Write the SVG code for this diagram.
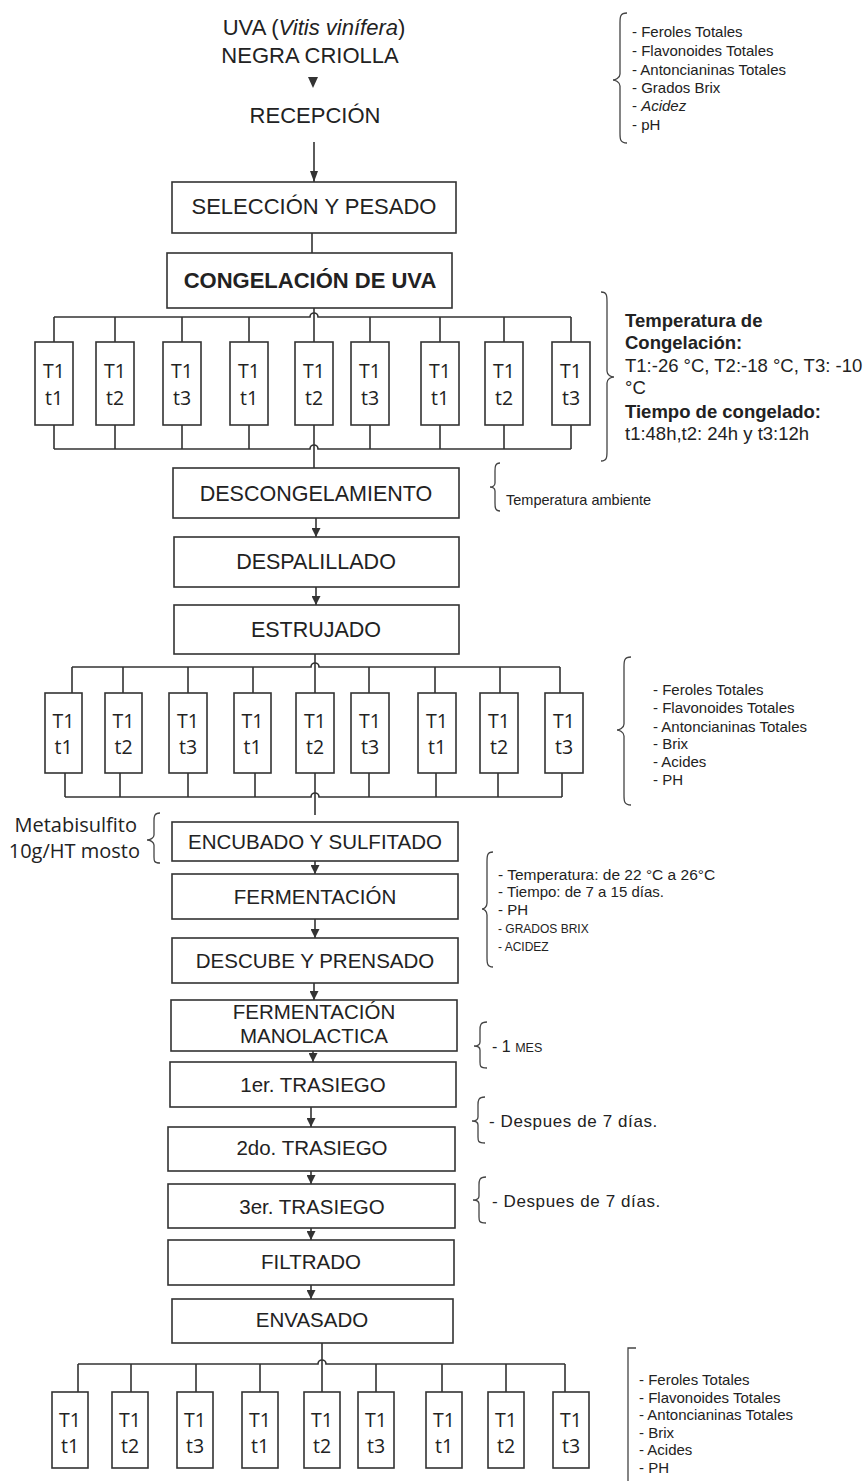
<svg xmlns="http://www.w3.org/2000/svg" width="868" height="1481" viewBox="0 0 868 1481">
<style>
.bx{fill:#fff;stroke:#333;stroke-width:1.6}
.ln{fill:none;stroke:#333;stroke-width:1.6}
.br{fill:none;stroke:#444;stroke-width:1.3}
.a{font-family:"Liberation Sans",Arial,sans-serif;fill:#222}
.m{font-size:21.5px;text-anchor:middle}
.tt{font-family:"Open Sans","Liberation Sans",sans-serif;font-size:19.5px;text-anchor:middle;fill:#222}
.s{font-size:15px}
.b18{font-size:18.5px}
</style>
<defs>
<marker id="ah" markerWidth="9" markerHeight="9" refX="9" refY="4.5" orient="auto" markerUnits="userSpaceOnUse"><path d="M0,0 L9,4.5 L0,9 z" fill="#333"/></marker>
<marker id="ah2" markerWidth="11" markerHeight="8" refX="11" refY="4" orient="auto" markerUnits="userSpaceOnUse"><path d="M0,0 L11,4 L0,8 z" fill="#333"/></marker>
</defs>
<rect width="868" height="1481" fill="#fff"/>

<g id="connectors">
<polygon points="308,77 318,77 313,88" fill="#333"/>
<line class="ln" x1="314" y1="142" x2="314" y2="182" marker-end="url(#ah2)"/>
<line class="ln" x1="312" y1="233" x2="312" y2="253"/>
<!-- grid 1 -->
<path class="ln" d="M54,317 H310 A4,4 0 0 1 318,317 H571"/>
<line class="ln" x1="314" y1="308" x2="314" y2="342"/>
<path class="ln" d="M54,317V342 M115,317V342 M182,317V342 M249,317V342 M370,317V342 M440,317V342 M504,317V342 M571,317V342"/>
<path class="ln" d="M54,425V449 M115,425V449 M182,425V449 M249,425V449 M370,425V449 M440,425V449 M504,425V449 M571,425V449"/>
<path class="ln" d="M54,449 H310 A4,4 0 0 1 318,449 H571"/>
<line class="ln" x1="314" y1="425" x2="314" y2="468"/>
<line class="ln" x1="316" y1="518" x2="316" y2="537" marker-end="url(#ah)"/>
<line class="ln" x1="316" y1="587" x2="316" y2="605" marker-end="url(#ah)"/>
<!-- grid 2 -->
<path class="ln" d="M72,667 H311 A4,4 0 0 1 319,667 H560"/>
<line class="ln" x1="315" y1="654" x2="315" y2="693"/>
<path class="ln" d="M72,667V693 M123,667V693 M188,667V693 M253,667V693 M369,667V693 M435,667V693 M500,667V693 M560,667V693"/>
<path class="ln" d="M65,773V797 M120,773V797 M188,773V797 M255,773V797 M369,773V797 M436,773V797 M498,773V797 M562,773V797"/>
<path class="ln" d="M65,797 H311 A4,4 0 0 1 319,797 H562"/>
<line class="ln" x1="315" y1="773" x2="315" y2="815"/>
<line class="ln" x1="315" y1="861" x2="315" y2="874" marker-end="url(#ah)"/>
<line class="ln" x1="315" y1="919" x2="315" y2="938" marker-end="url(#ah)"/>
<line class="ln" x1="314" y1="983" x2="314" y2="1000" marker-end="url(#ah)"/>
<line class="ln" x1="313" y1="1051" x2="313" y2="1062" marker-end="url(#ah)"/>
<line class="ln" x1="311" y1="1107" x2="311" y2="1127" marker-end="url(#ah)"/>
<line class="ln" x1="311" y1="1171" x2="311" y2="1184" marker-end="url(#ah)"/>
<line class="ln" x1="311" y1="1228" x2="311" y2="1240" marker-end="url(#ah)"/>
<line class="ln" x1="311" y1="1285" x2="311" y2="1299" marker-end="url(#ah)"/>
<!-- grid 3 -->
<line class="ln" x1="322" y1="1343" x2="322" y2="1392"/>
<path class="ln" d="M78,1364 H318 A4,4 0 0 1 326,1364 H565"/>
<path class="ln" d="M78,1364V1392 M131,1364V1392 M196,1364V1392 M260,1364V1392 M376,1364V1392 M442,1364V1392 M506,1364V1392 M565,1364V1392"/>
</g>

<g id="n-uva">
<text class="a" x="314" y="35" text-anchor="middle" font-size="22">UVA (<tspan font-style="italic">Vitis vinífera</tspan>)</text>
<text class="a" x="310" y="63" text-anchor="middle" font-size="22">NEGRA CRIOLLA</text>
</g>
<g id="n-recepcion"><text class="a" x="315" y="123" text-anchor="middle" font-size="22">RECEPCIÓN</text></g>
<g id="n-seleccion"><rect class="bx" x="172" y="182" width="284" height="51"/><text class="a" x="314" y="214" text-anchor="middle" font-size="22">SELECCIÓN Y PESADO</text></g>
<g id="n-congelacion"><rect class="bx" x="167" y="253" width="285" height="55"/><text class="a" x="310" y="288" text-anchor="middle" font-size="22" font-weight="bold">CONGELACIÓN DE UVA</text></g>

<g id="grid1">
<g id="g1b1"><rect class="bx" x="35" y="342" width="38" height="83"/><text class="tt" x="54" y="378">T1</text><text class="tt" x="54" y="405">t1</text></g>
<g id="g1b2"><rect class="bx" x="96" y="342" width="38" height="83"/><text class="tt" x="115" y="378">T1</text><text class="tt" x="115" y="405">t2</text></g>
<g id="g1b3"><rect class="bx" x="163" y="342" width="38" height="83"/><text class="tt" x="182" y="378">T1</text><text class="tt" x="182" y="405">t3</text></g>
<g id="g1b4"><rect class="bx" x="230" y="342" width="38" height="83"/><text class="tt" x="249" y="378">T1</text><text class="tt" x="249" y="405">t1</text></g>
<g id="g1b5"><rect class="bx" x="295" y="342" width="38" height="83"/><text class="tt" x="314" y="378">T1</text><text class="tt" x="314" y="405">t2</text></g>
<g id="g1b6"><rect class="bx" x="351" y="342" width="38" height="83"/><text class="tt" x="370" y="378">T1</text><text class="tt" x="370" y="405">t3</text></g>
<g id="g1b7"><rect class="bx" x="421" y="342" width="38" height="83"/><text class="tt" x="440" y="378">T1</text><text class="tt" x="440" y="405">t1</text></g>
<g id="g1b8"><rect class="bx" x="485" y="342" width="38" height="83"/><text class="tt" x="504" y="378">T1</text><text class="tt" x="504" y="405">t2</text></g>
<g id="g1b9"><rect class="bx" x="552" y="342" width="38" height="83"/><text class="tt" x="571" y="378">T1</text><text class="tt" x="571" y="405">t3</text></g>
</g>

<g id="n-descong"><rect class="bx" x="173" y="468" width="286" height="50"/><text class="a m" x="316" y="501">DESCONGELAMIENTO</text></g>
<g id="n-despal"><rect class="bx" x="174" y="537" width="285" height="50"/><text class="a m" x="316" y="569">DESPALILLADO</text></g>
<g id="n-estruj"><rect class="bx" x="174" y="605" width="285" height="49"/><text class="a m" x="316" y="637">ESTRUJADO</text></g>

<g id="grid2">
<g id="g2b1"><rect class="bx" x="45" y="693" width="37" height="80"/><text class="tt" x="63.5" y="728">T1</text><text class="tt" x="63.5" y="754">t1</text></g>
<g id="g2b2"><rect class="bx" x="105" y="693" width="37" height="80"/><text class="tt" x="123.5" y="728">T1</text><text class="tt" x="123.5" y="754">t2</text></g>
<g id="g2b3"><rect class="bx" x="169" y="693" width="38" height="80"/><text class="tt" x="188" y="728">T1</text><text class="tt" x="188" y="754">t3</text></g>
<g id="g2b4"><rect class="bx" x="234" y="693" width="37" height="80"/><text class="tt" x="252.5" y="728">T1</text><text class="tt" x="252.5" y="754">t1</text></g>
<g id="g2b5"><rect class="bx" x="296" y="693" width="38" height="80"/><text class="tt" x="315" y="728">T1</text><text class="tt" x="315" y="754">t2</text></g>
<g id="g2b6"><rect class="bx" x="351" y="693" width="38" height="80"/><text class="tt" x="370" y="728">T1</text><text class="tt" x="370" y="754">t3</text></g>
<g id="g2b7"><rect class="bx" x="418" y="693" width="38" height="80"/><text class="tt" x="437" y="728">T1</text><text class="tt" x="437" y="754">t1</text></g>
<g id="g2b8"><rect class="bx" x="480" y="693" width="38" height="80"/><text class="tt" x="499" y="728">T1</text><text class="tt" x="499" y="754">t2</text></g>
<g id="g2b9"><rect class="bx" x="545" y="693" width="38" height="80"/><text class="tt" x="564" y="728">T1</text><text class="tt" x="564" y="754">t3</text></g>
</g>

<g id="n-encubado"><rect class="bx" x="172" y="822" width="286" height="39"/><text class="a" x="315" y="849" text-anchor="middle" font-size="20.5">ENCUBADO Y SULFITADO</text></g>
<g id="n-ferment"><rect class="bx" x="172" y="874" width="286" height="45"/><text class="a" x="315" y="904" text-anchor="middle" font-size="20.5">FERMENTACIÓN</text></g>
<g id="n-descube"><rect class="bx" x="172" y="938" width="286" height="45"/><text class="a" x="315" y="968" text-anchor="middle" font-size="20.5">DESCUBE Y PRENSADO</text></g>
<g id="n-fm"><rect class="bx" x="171" y="1000" width="286" height="51"/><text class="a" x="314" y="1019" text-anchor="middle" font-size="20.5">FERMENTACIÓN</text><text class="a" x="314" y="1043" text-anchor="middle" font-size="20.5">MANOLACTICA</text></g>
<g id="n-tras1"><rect class="bx" x="170" y="1062" width="286" height="45"/><text class="a" x="313" y="1092" text-anchor="middle" font-size="20.5">1er. TRASIEGO</text></g>
<g id="n-tras2"><rect class="bx" x="168" y="1127" width="287" height="44"/><text class="a" x="312" y="1155" text-anchor="middle" font-size="20.5">2do. TRASIEGO</text></g>
<g id="n-tras3"><rect class="bx" x="168" y="1184" width="287" height="44"/><text class="a" x="312" y="1214" text-anchor="middle" font-size="20.5">3er. TRASIEGO</text></g>
<g id="n-filtrado"><rect class="bx" x="168" y="1240" width="286" height="45"/><text class="a" x="311" y="1269" text-anchor="middle" font-size="20.5">FILTRADO</text></g>
<g id="n-envasado"><rect class="bx" x="172" y="1299" width="281" height="44"/><text class="a" x="312" y="1327" text-anchor="middle" font-size="20.5">ENVASADO</text></g>

<g id="grid3">
<g id="g3b1"><rect class="bx" x="52" y="1392" width="36" height="76"/><text class="tt" x="70" y="1427">T1</text><text class="tt" x="70" y="1453">t1</text></g>
<g id="g3b2"><rect class="bx" x="112" y="1392" width="36" height="76"/><text class="tt" x="130" y="1427">T1</text><text class="tt" x="130" y="1453">t2</text></g>
<g id="g3b3"><rect class="bx" x="177" y="1392" width="36" height="76"/><text class="tt" x="195" y="1427">T1</text><text class="tt" x="195" y="1453">t3</text></g>
<g id="g3b4"><rect class="bx" x="242" y="1392" width="36" height="76"/><text class="tt" x="260" y="1427">T1</text><text class="tt" x="260" y="1453">t1</text></g>
<g id="g3b5"><rect class="bx" x="304" y="1392" width="36" height="76"/><text class="tt" x="322" y="1427">T1</text><text class="tt" x="322" y="1453">t2</text></g>
<g id="g3b6"><rect class="bx" x="358" y="1392" width="36" height="76"/><text class="tt" x="376" y="1427">T1</text><text class="tt" x="376" y="1453">t3</text></g>
<g id="g3b7"><rect class="bx" x="426" y="1392" width="36" height="76"/><text class="tt" x="444" y="1427">T1</text><text class="tt" x="444" y="1453">t1</text></g>
<g id="g3b8"><rect class="bx" x="488" y="1392" width="36" height="76"/><text class="tt" x="506" y="1427">T1</text><text class="tt" x="506" y="1453">t2</text></g>
<g id="g3b9"><rect class="bx" x="553" y="1392" width="36" height="76"/><text class="tt" x="571" y="1427">T1</text><text class="tt" x="571" y="1453">t3</text></g>
</g>

<g id="ann-top">
<path class="br" d="M627,13 C620,13 620,17 620,23 L620,74 C620,78 615,80 613,80 C615,80 620,82 620,86 L620,133 C620,139 620,143 627,143"/>
<text class="a s" x="632" y="37">- Feroles Totales</text>
<text class="a s" x="632" y="56">- Flavonoides Totales</text>
<text class="a s" x="632" y="75">- Antoncianinas Totales</text>
<text class="a s" x="632" y="93">- Grados Brix</text>
<text class="a s" x="632" y="111">- <tspan font-style="italic">Acidez</tspan></text>
<text class="a s" x="632" y="130">- pH</text>
</g>

<g id="ann-congelacion">
<path class="br" d="M601,292 C607,292 607,296 607,302 L607,371 C607,375 611,377 614,377 C611,377 607,379 607,383 L607,451 C607,457 607,461 601,461"/>
<text class="a b18" x="625" y="327" font-weight="bold">Temperatura de</text>
<text class="a b18" x="625" y="349" font-weight="bold">Congelación:</text>
<text class="a b18" x="625" y="372">T1:-26 °C, T2:-18 °C, T3: -10</text>
<text class="a b18" x="625" y="394">°C</text>
<text class="a b18" x="625" y="418" font-weight="bold">Tiempo de congelado:</text>
<text class="a b18" x="625" y="440">t1:48h,t2: 24h y t3:12h</text>
</g>

<g id="ann-descong">
<path class="br" d="M500,463 C495,463 495,467 495,471 L495,483 C495,486 492,487 490,487 C492,487 495,488 495,491 L495,503 C495,507 495,511 500,511"/>
<text class="a" x="506" y="505" font-size="14.5">Temperatura ambiente</text>
</g>

<g id="ann-estrujado">
<path class="br" d="M631,657 C624,657 624,661 624,667 L624,724 C624,728 619,730 617,730 C619,730 624,732 624,736 L624,795 C624,801 624,805 631,805"/>
<text class="a s" x="653" y="695">- Feroles Totales</text>
<text class="a s" x="653" y="713">- Flavonoides Totales</text>
<text class="a s" x="653" y="732">- Antoncianinas Totales</text>
<text class="a s" x="653" y="749">- Brix</text>
<text class="a s" x="653" y="767">- Acides</text>
<text class="a s" x="653" y="785">- PH</text>
</g>

<g id="ann-metabisulfito">
<path class="br" d="M160,813 C154,813 154,817 154,821 L154,835 C154,838 150,840 147,840 C150,840 154,842 154,845 L154,857 C154,861 154,863 160,863"/>
<text x="137" y="832" text-anchor="end" font-family="'Open Sans',sans-serif" font-size="20" fill="#222">Metabisulfito</text>
<text x="140" y="858" text-anchor="end" font-family="'Open Sans',sans-serif" font-size="20" fill="#222">10g/HT mosto</text>
</g>

<g id="ann-fermentacion">
<path class="br" d="M493,852 C487,852 487,856 487,862 L487,903 C487,907 484,909 482,909 C484,909 487,911 487,915 L487,957 C487,963 487,967 493,967"/>
<text class="a" x="498" y="880" font-size="15.5">- Temperatura: de 22 °C a 26°C</text>
<text class="a" x="498" y="897" font-size="15">- Tiempo: de 7 a 15 días.</text>
<text class="a" x="498" y="915" font-size="15">- PH</text>
<text class="a" x="498" y="933" font-size="12">- GRADOS BRIX</text>
<text class="a" x="498" y="951" font-size="12">- ACIDEZ</text>
</g>

<g id="ann-mes">
<path class="br" d="M487,1022 C480,1022 480,1026 480,1030 L480,1042 C480,1045 477,1046 474,1046 C477,1046 480,1047 480,1050 L480,1062 C480,1066 480,1068 487,1068"/>
<text class="a" x="492" y="1052" font-size="16">- 1 <tspan font-size="12.5">MES</tspan></text>
</g>

<g id="ann-tras1">
<path class="br" d="M485,1097 C478,1097 478,1101 478,1105 L478,1117 C478,1120 475,1121 472,1121 C475,1121 478,1122 478,1125 L478,1137 C478,1141 478,1143 485,1143"/>
<text class="a" x="489" y="1127" font-size="17" letter-spacing="0.6">- Despues de 7 días.</text>
</g>

<g id="ann-tras2">
<path class="br" d="M486,1177 C479,1177 479,1181 479,1185 L479,1196 C479,1199 476,1200 473,1200 C476,1200 479,1201 479,1204 L479,1217 C479,1221 479,1223 486,1223"/>
<text class="a" x="492" y="1207" font-size="17" letter-spacing="0.6">- Despues de 7 días.</text>
</g>

<g id="ann-envasado">
<path class="br" d="M636,1348 L628,1348 L628,1481"/>
<text class="a s" x="639" y="1385">- Feroles Totales</text>
<text class="a s" x="639" y="1403">- Flavonoides Totales</text>
<text class="a s" x="639" y="1420">- Antoncianinas Totales</text>
<text class="a s" x="639" y="1438">- Brix</text>
<text class="a s" x="639" y="1455">- Acides</text>
<text class="a s" x="639" y="1473">- PH</text>
</g>
</svg>
